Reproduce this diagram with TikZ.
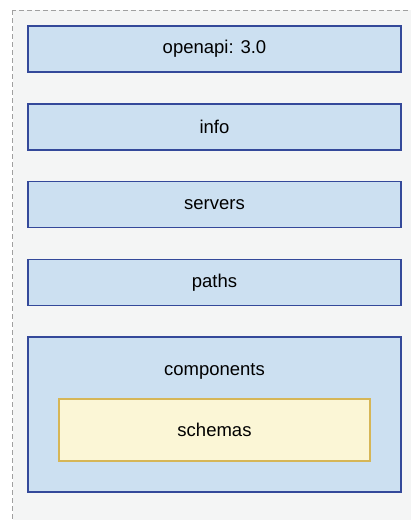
\documentclass[tikz,border=0pt]{standalone}
\usepackage{fontspec}
\setmainfont{Liberation Sans}
\definecolor{pagegray}{HTML}{F4F5F5}
\definecolor{dashgray}{HTML}{A0A0A0}
\definecolor{blockfill}{HTML}{CCE0F1}
\definecolor{blockline}{HTML}{34499A}
\definecolor{schemafill}{HTML}{FBF6D6}
\definecolor{schemaline}{HTML}{D6B656}
\tikzset{
  docbox/.style={draw=blockline,fill=blockfill,line width=1.3pt,minimum width=373pt,minimum height=46pt,inner sep=0pt},
  schemabox/.style={draw=schemaline,fill=schemafill,line width=1.3pt,minimum width=311pt,minimum height=62pt,inner sep=0pt}
}

\begin{document}
\begin{tikzpicture}[x=1pt,y=-1pt,font=\fontsize{18.5}{22}\selectfont]
  \useasboundingbox (0,0) rectangle (411,520);
  \clip (0,0) rectangle (411,520);
  % page frame (runs on past the picture)
  \draw[dashgray,fill=pagegray,dash pattern=on 5pt off 3pt,line width=1pt] (12.5,10) rectangle (440,560);
  % top level keys
  \foreach \y/\nm/\txt in {49/openapi/{openapi: 3.0},127/info/info,204.5/servers/servers,282.5/paths/paths}
    \node[docbox] (\nm) at (214.5,\y) {\txt};
  % components with schemas inside
  \node[docbox,minimum height=155pt,label={[anchor=center,yshift=-35pt]north:components}] (components) at (214.5,414.5) {};
  \node[schemabox] (schemas) at (214.5,430) {schemas};
\end{tikzpicture}
\end{document}
